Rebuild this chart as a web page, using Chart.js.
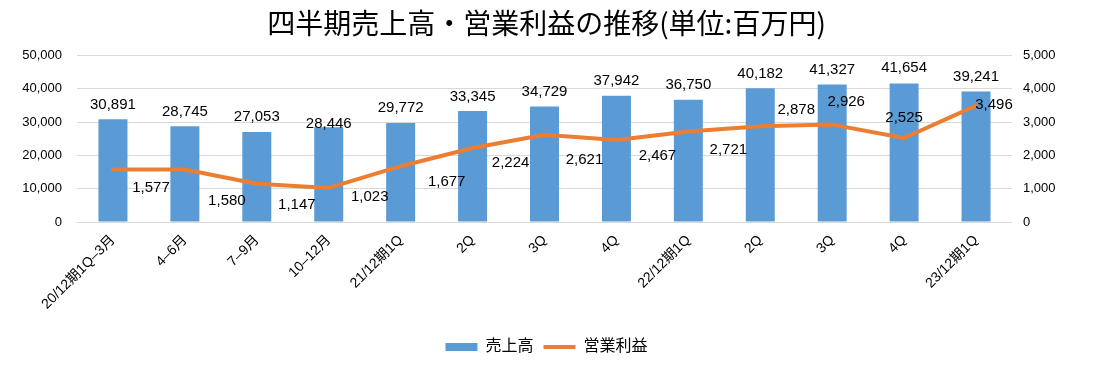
<!DOCTYPE html>
<html>
<head>
<meta charset="utf-8">
<script src="https://cdn.jsdelivr.net/npm/chart.js@4"></script>
<style>
html, body { margin: 0; padding: 0; background: #fff; }
#wrap { width: 1093px; height: 371px; }
</style>
</head>
<body>
<div id="wrap"><canvas id="myChart"></canvas></div>
<script>
// data
const categories = ['20/12期1Q–3月', '4–6月', '7–9月', '10–12月', '21/12期1Q', '2Q', '3Q', '4Q', '22/12期1Q', '2Q', '3Q', '4Q', '23/12期1Q'];
const sales = [30891, 28745, 27053, 28446, 29772, 33345, 34729, 37942, 36750, 40182, 41327, 41654, 39241];
const profit = [1577, 1580, 1147, 1023, 1677, 2224, 2621, 2467, 2721, 2878, 2926, 2525, 3496];
const salesTicks = [0, 10000, 20000, 30000, 40000, 50000];
const profitTicks = [0, 1000, 2000, 3000, 4000, 5000];

// where the value labels sit, relative to the bar top / line point
const barLabelDy = [-16, -16, -16, -5, -16, -16, -16, -16, -16, -16, -16, -17, -16];
const profitLabelDx = [38, 42, 40, 41, 46, 38, 40, 41, 40, 36, 14, 0, 18];
const profitLabelDy = [17, 30, 20, 8, 14, 14, 24, 15, 17, -18, -24, -21, -2];

const FONT = "'Liberation Sans', 'Noto Sans CJK JP', sans-serif";
Chart.defaults.font.family = FONT;
Chart.defaults.color = '#000';

const fmt = v => Number(v).toLocaleString('en-US');

const valueLabels = {
    id: 'valueLabels',
    afterDatasetsDraw(chart) {
        const c = chart.ctx;
        c.save();
        c.font = '15px ' + FONT;
        c.fillStyle = '#000';
        c.textAlign = 'center';
        c.textBaseline = 'alphabetic';
        chart.getDatasetMeta(0).data.forEach((bar, i) => {
            c.fillText(fmt(sales[i]), bar.x, bar.y + barLabelDy[i] + 5.5);
        });
        chart.getDatasetMeta(1).data.forEach((pt, i) => {
            c.fillText(fmt(profit[i]), pt.x + profitLabelDx[i], pt.y + profitLabelDy[i] + 5.5);
        });
        c.restore();
    }
};

const data = {
    labels: categories,
    datasets: [{
        type: 'bar',
        label: '売上高',
        data: sales,
        yAxisID: 'y',
        backgroundColor: '#5B9BD5',
        categoryPercentage: 1,
        barPercentage: 0.403,
        pointStyle: 'rect',
        order: 2
    }, {
        type: 'line',
        label: '営業利益',
        data: profit,
        yAxisID: 'y1',
        borderColor: '#ED7D31',
        backgroundColor: '#ED7D31',
        borderWidth: 4,
        borderJoinStyle: 'round',
        borderCapStyle: 'round',
        pointRadius: 0,
        pointStyle: 'line',
        tension: 0,
        order: 1
    }]
};

const config = {
    data: data,
    options: {
        responsive: true,
        maintainAspectRatio: false,
        animation: false,
        layout: { padding: { top: 0, bottom: 6, left: 0, right: 0 } },
        plugins: {
            title: {
                display: true,
                text: '四半期売上高・営業利益の推移(単位:百万円)',
                font: { family: "'Noto Sans CJK JP', sans-serif", size: 28, weight: 'normal' },
                color: '#000',
                padding: { top: 7, bottom: 15 }
            },
            legend: {
                position: 'bottom',
                labels: {
                    usePointStyle: true,
                    pointStyleWidth: 32,
                    boxHeight: 8,
                    padding: 10,
                    font: { size: 16 },
                    color: '#000',
                    sort: (a, b) => a.datasetIndex - b.datasetIndex
                }
            },
            tooltip: { enabled: false }
        },
        scales: {
            x: {
                grid: { display: false },
                border: { display: false },
                ticks: { autoSkip: false, maxRotation: 45, minRotation: 45, padding: 2, font: { size: 14 } },
                afterFit: s => { s.height = 107; }
            },
            y: {
                position: 'left',
                min: 0,
                max: 50000,
                grid: { color: '#D9D9D9', drawTicks: false },
                border: { display: false },
                ticks: { padding: 15, font: { size: 13 }, callback: v => fmt(v) },
                afterBuildTicks: s => { s.ticks = salesTicks.map(v => ({ value: v })); },
                afterFit: s => { s.width = 77; }
            },
            y1: {
                position: 'right',
                min: 0,
                max: 5000,
                grid: { display: false, drawTicks: false },
                border: { display: false },
                ticks: { padding: 11, font: { size: 13 }, callback: v => fmt(v) },
                afterBuildTicks: s => { s.ticks = profitTicks.map(v => ({ value: v })); },
                afterFit: s => { s.width = 81; }
            }
        }
    },
    plugins: [valueLabels]
};

var ctx = document.getElementById('myChart').getContext('2d');
var myChart = new Chart(ctx, config);
</script>
</body>
</html>
